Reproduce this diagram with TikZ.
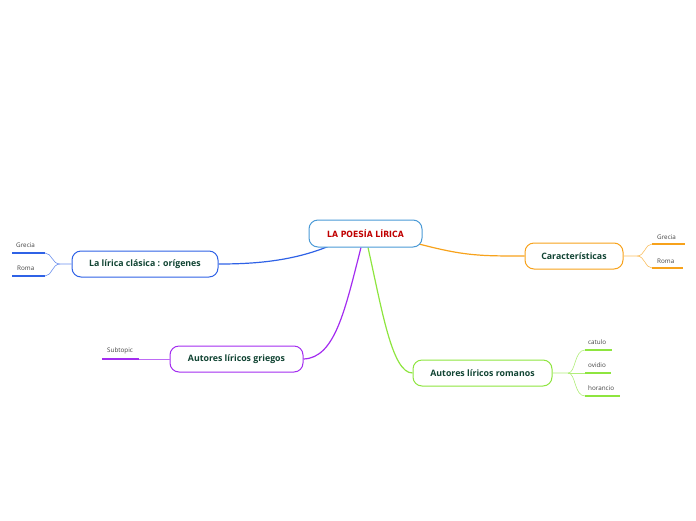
\documentclass[tikz,border=0pt]{standalone}
\usepackage{fontspec}
\setmainfont{Open Sans}
\newfontfamily\titlefont{DejaVu Sans Condensed}
\definecolor{dtext}{HTML}{114433}
\definecolor{cblue}{HTML}{2F62E6}
\definecolor{corange}{HTML}{F7A21B}
\definecolor{cpurple}{HTML}{A32CF0}
\definecolor{cgreen}{HTML}{8EE53F}
\definecolor{ccentral}{HTML}{4A9AD6}
\definecolor{ctitle}{HTML}{C00000}
\begin{document}
\begin{tikzpicture}[x=1pt,y=-1pt,
  mainbox/.style={draw, rounded corners=9pt, line width=1pt, fill=white, minimum height=26pt, inner sep=0pt,
     font=\bfseries\fontsize{8.8}{10}\selectfont, text=dtext},
  sub/.style={anchor=south west, inner sep=0pt, font=\fontsize{6.3}{7}\selectfont, text=black!75},
  uline/.style={line width=1.4pt},
  thin/.style={line width=0.6pt},
  conn/.style={line width=1.2pt}]
\useasboundingbox (0,0) rectangle (696,520);

% main topics
\node[mainbox, draw=cblue, minimum width=146pt] (l) at (145,264) {La lírica clásica : orígenes};
\node[mainbox, draw=corange, minimum width=98pt] (k) at (574,256) {Características};
\node[mainbox, draw=cpurple, minimum width=133pt] (g) at (236.5,359) {Autores líricos griegos};
\node[mainbox, draw=cgreen, minimum width=139pt] (r) at (482.5,373) {Autores líricos romanos};

% connector start points on the central topic
\coordinate (cl) at (328,246.5);
\coordinate (ck) at (419,244);
\coordinate (cg) at (361,247.5);
\coordinate (cr) at (368,247.5);

% connectors from centre
\draw[conn, cblue] (cl) .. controls (290,262) and (250,264) .. (l.east);
\draw[conn, corange] (ck) .. controls (465,256) and (480,256) .. (k.west);
\draw[conn, cpurple] (cg) .. controls (345,310) and (335,358) .. (g.east);
\draw[conn, cgreen] (cr) .. controls (382,310) and (392,373) .. (r.west);

% central
\node[mainbox, draw=ccentral, minimum width=113pt, minimum height=27pt, text=ctitle,
  font=\titlefont\bfseries\fontsize{8.6}{10}\selectfont] (c) at (365.5,233.5) {LA POESÍA LÍRICA};

% left subtopics
\coordinate (lb) at (60,264);
\coordinate (l1) at (45,253); \coordinate (l1e) at (12,253);
\coordinate (l2) at (45,276); \coordinate (l2e) at (12,276);
\draw[thin, cblue!70] (l.west) -- (lb) .. controls (52,264) and (52,253) .. (l1);
\draw[thin, cblue!70] (lb) .. controls (52,264) and (52,276) .. (l2);
\draw[uline, cblue] (l1) -- (l1e);
\draw[uline, cblue] (l2) -- (l2e);
\node[sub] (lg) at (16,247.5) {Grecia};
\node[sub] (lr) at (17,271) {Roma};

% caracteristicas subtopics
\coordinate (kb) at (637,256);
\coordinate (k1) at (652,244); \coordinate (k1e) at (685,244);
\coordinate (k2) at (652,268); \coordinate (k2e) at (683,268);
\draw[thin, corange!70] (k.east) -- (kb) .. controls (645,256) and (645,244) .. (k1);
\draw[thin, corange!70] (kb) .. controls (645,256) and (645,268) .. (k2);
\draw[uline, corange] (k1) -- (k1e);
\draw[uline, corange] (k2) -- (k2e);
\node[sub] (kg) at (657,240) {Grecia};
\node[sub] (kr) at (657,263.5) {Roma};

% griegos subtopic
\coordinate (g1) at (139,359); \coordinate (g1e) at (102,359);
\draw[thin, cpurple!70] (g.west) -- (g1);
\draw[uline, cpurple] (g1) -- (g1e);
\node[sub] (gs) at (107,354) {Subtopic};

% romanos subtopics
\coordinate (rb) at (568,373);
\coordinate (r1) at (585,350); \coordinate (r1e) at (612,350);
\coordinate (r2) at (585,373); \coordinate (r2e) at (611,373);
\coordinate (r3) at (585,396); \coordinate (r3e) at (620,396);
\draw[thin, cgreen!70] (r.east) -- (rb) .. controls (576,373) and (574,350) .. (r1);
\draw[thin, cgreen!70] (rb) -- (r2);
\draw[thin, cgreen!70] (rb) .. controls (576,373) and (574,396) .. (r3);
\draw[uline, cgreen] (r1) -- (r1e);
\draw[uline, cgreen] (r2) -- (r2e);
\draw[uline, cgreen] (r3) -- (r3e);
\node[sub] (rc) at (588,344.5) {catulo};
\node[sub] (ro) at (588,367.5) {ovidio};
\node[sub] (rh) at (588,390.5) {horancio};
\end{tikzpicture}
\end{document}
